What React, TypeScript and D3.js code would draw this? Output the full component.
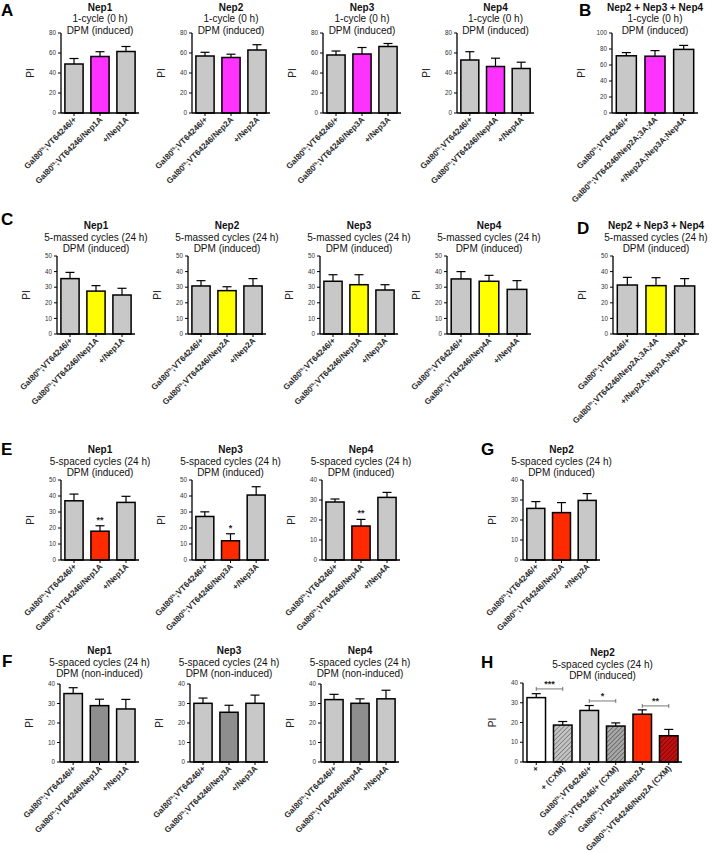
import React from "react";
import * as d3 from "d3";

// ---------- categories ----------
const catNep1 = ["Gal80^ts;VT64246/+", "Gal80^ts;VT64246/Nep1A", "+/Nep1A"];
const catNep2 = ["Gal80^ts;VT64246/+", "Gal80^ts;VT64246/Nep2A", "+/Nep2A"];
const catNep3 = ["Gal80^ts;VT64246/+", "Gal80^ts;VT64246/Nep3A", "+/Nep3A"];
const catNep4 = ["Gal80^ts;VT64246/+", "Gal80^ts;VT64246/Nep4A", "+/Nep4A"];
const catCombo = ["Gal80^ts;VT64246/+", "Gal80^ts;VT64246/Nep2A;3A;4A", "+/Nep2A;Nep3A;Nep4A"];
const catH = [
  "+",
  "+ (CXM)",
  "Gal80^ts;VT64246/+",
  "Gal80^ts;VT64246/+ (CXM)",
  "Gal80^ts;VT64246/Nep2A",
  "Gal80^ts;VT64246/Nep2A (CXM)",
];

// ---------- values (mean, SEM) ----------
// A: 1-cycle (0 h), induced
const meanA1 = [49, 56.5, 61.5];
const semA1 = [5.5, 4.8, 5];
const meanA2 = [57, 55.5, 63];
const semA2 = [3.7, 3.3, 5.3];
const meanA3 = [58, 59, 66.5];
const semA3 = [4, 6.5, 3];
const meanA4 = [53, 46.5, 44.5];
const semA4 = [8.3, 8.3, 6.3];
const meanB = [71.5, 71, 79.5];
const semB = [4, 7, 5];
// C: 5-massed cycles
const meanC1 = [35.5, 27.5, 25];
const semC1 = [4, 3.5, 4.3];
const meanC2 = [30.8, 27.8, 30.8];
const semC2 = [3.4, 2.5, 4.7];
const meanC3 = [33.8, 31.6, 28.2];
const semC3 = [4.2, 6.4, 3.4];
const meanC4 = [35.3, 33.8, 28.6];
const semC4 = [4.7, 3.8, 5.6];
const meanD = [31.4, 31, 30.8];
const semD = [4.9, 5.1, 4.7];
// E: 5-spaced cycles, induced
const meanE1 = [37, 18, 36];
const semE1 = [4.2, 3.4, 3.8];
const sigE1 = ["", "**", ""];
const meanE3 = [27.2, 12, 40.6];
const semE3 = [2.9, 4.4, 5.2];
const sigE3 = ["", "*", ""];
const meanE4 = [29, 17, 31.3];
const semE4 = [1.5, 3.3, 2.5];
const sigE4 = ["", "**", ""];
const meanG = [25.8, 23.7, 29.8];
const semG = [3.4, 5, 3.4];
// F: 5-spaced cycles, non-induced
const meanF1 = [35.1, 28.9, 27.2];
const semF1 = [3, 3.3, 4.9];
const meanF3 = [30.1, 25.5, 30.1];
const semF3 = [2.7, 3.6, 4.2];
const meanF4 = [32, 30.1, 32.4];
const semF4 = [2.7, 2.3, 4.4];
// H: CXM
const meanH = [32.6, 18.7, 26.1, 18.2, 24.2, 13.3];
const semH = [2, 1.8, 2.5, 1.6, 2.2, 3.2];
const hSigPairs = [[0, 1], [2, 3], [4, 5]];
const hSigLevels = [37, 30.9, 28.4];
const hSigLabels = ["***", "*", "**"];

const FONT = "'Liberation Sans', Arial, Helvetica, sans-serif";
const GRAY = "#c8c8c8";
const MAG = "#ff33ff";
const YEL = "#ffff00";
const RED = "#ff2a00";
const DGRAY = "#8e8e8e";

function Label({ text, x, y, size }: { text: string; x: number; y: number; size: number }) {
  const parts = text.split("^ts");
  return (
    <text
      transform={`translate(${x},${y}) rotate(-45)`}
      textAnchor="end"
      fontSize={size}
      fontWeight="bold"
      fill="#2a2a2a"
      fontFamily={FONT}
    >
      {parts.length === 1 ? (
        text
      ) : (
        <>
          <tspan>{parts[0]}</tspan>
          <tspan dy={-3} fontSize={size * 0.62}>ts</tspan>
          <tspan dy={3}>{parts[1]}</tspan>
        </>
      )}
    </text>
  );
}

type PanelProps = {
  ax: number;
  yTop: number;
  y0: number;
  w: number;
  ymax: number;
  step: number;
  titles: string[];
  titleY: number;
  cats: string[];
  means: number[];
  sems: number[];
  fills: string[];
  sig?: string[];
  brackets?: boolean;
};

function Panel(p: PanelProps) {
  const x = d3.scaleBand<number>().domain(d3.range(p.cats.length)).range([p.ax, p.ax + p.w]).paddingInner(0.3).paddingOuter(0.15);
  const y = d3.scaleLinear().domain([0, p.ymax]).range([p.y0, p.yTop]);
  const ticks = d3.range(0, p.ymax + p.step / 2, p.step);
  const cx = p.ax + p.w / 2;
  const bw = x.bandwidth();
  return (
    <g>
      {p.titles.map((t, i) => (
        <text
          key={i}
          x={cx}
          y={p.titleY + i * 11.5}
          textAnchor="middle"
          fontSize={10}
          fontWeight={i === 0 ? "bold" : "normal"}
          fill="#111"
          fontFamily={FONT}
        >
          {t}
        </text>
      ))}
      {/* bars */}
      {p.means.map((m, i) => {
        const bx = x(i)!;
        const top = y(m);
        const et = y(m + p.sems[i]);
        const c = bx + bw / 2;
        return (
          <g key={i}>
            <line x1={c} x2={c} y1={top} y2={et} stroke="#000" strokeWidth={1.2} />
            <line x1={c - 4.5} x2={c + 4.5} y1={et} y2={et} stroke="#000" strokeWidth={1.2} />
            <rect x={bx} y={top} width={bw} height={p.y0 - top} fill={p.fills[i]} stroke="#000" strokeWidth={1.5} />
            {p.sig && p.sig[i] ? (
              <text x={c} y={et - 3} textAnchor="middle" fontSize={9} fontWeight="bold" fill="#222" fontFamily={FONT}>
                {p.sig[i]}
              </text>
            ) : null}
          </g>
        );
      })}
      {/* H brackets */}
      {p.brackets &&
        hSigPairs.map((pr, k) => {
          const x1 = x(pr[0])! + bw / 2;
          const x2 = x(pr[1])! + bw / 2;
          const yy = y(hSigLevels[k]);
          return (
            <g key={k}>
              <line x1={x1} x2={x2} y1={yy} y2={yy} stroke="#555" strokeWidth={0.8} />
              <line x1={x1} x2={x1} y1={yy - 2} y2={yy + 2} stroke="#555" strokeWidth={0.8} />
              <line x1={x2} x2={x2} y1={yy - 2} y2={yy + 2} stroke="#555" strokeWidth={0.8} />
              <text x={(x1 + x2) / 2} y={yy - 2} textAnchor="middle" fontSize={9} fontWeight="bold" fill="#222" fontFamily={FONT}>
                {hSigLabels[k]}
              </text>
            </g>
          );
        })}
      {/* y axis */}
      <line x1={p.ax} x2={p.ax} y1={p.yTop} y2={p.y0} stroke="#000" strokeWidth={1.3} />
      {ticks.map((t) => (
        <g key={t}>
          <line x1={p.ax - 3} x2={p.ax} y1={y(t)} y2={y(t)} stroke="#000" strokeWidth={1} />
          <text x={p.ax - 5} y={y(t) + 2.2} textAnchor="end" fontSize={6.3} fill="#333" fontFamily={FONT}>
            {t}
          </text>
        </g>
      ))}
      <text
        transform={`translate(${p.ax - 27},${(p.yTop + p.y0) / 2}) rotate(-90)`}
        textAnchor="middle"
        fontSize={10}
        fill="#222"
        fontFamily={FONT}
      >
        PI
      </text>
      {/* x axis */}
      <line x1={p.ax} x2={p.ax + p.w} y1={p.y0} y2={p.y0} stroke="#000" strokeWidth={1.3} />
      {p.cats.map((c, i) => {
        const xc = x(i)! + bw / 2;
        return (
          <g key={i}>
            <line x1={xc} x2={xc} y1={p.y0} y2={p.y0 + 3} stroke="#000" strokeWidth={1} />
            <Label text={c} x={xc + 3} y={p.y0 + 7} size={8.2} />
          </g>
        );
      })}
    </g>
  );
}

function Letter({ t, x, y }: { t: string; x: number; y: number }) {
  return (
    <text x={x} y={y} fontSize={17} fontWeight="bold" fill="#000" fontFamily={FONT}>
      {t}
    </text>
  );
}

export default function App() {
  const tA = (n: string) => [n, "1-cycle (0 h)", "DPM (induced)"];
  const tC = (n: string) => [n, "5-massed cycles (24 h)", "DPM (induced)"];
  const tE = (n: string) => [n, "5-spaced cycles (24 h)", "DPM (induced)"];
  const tF = (n: string) => [n, "5-spaced cycles (24 h)", "DPM (non-induced)"];
  const g3 = (mid: string) => [GRAY, mid, GRAY];
  return (
    <svg width={712} height={853} style={{ position: "absolute", left: 0, top: 0, background: "#fff" }}>
      <defs>
        <pattern id="hatchLight" width="3.2" height="3.2" patternUnits="userSpaceOnUse" patternTransform="rotate(45)">
          <rect width="3.2" height="3.2" fill="#c4c4c4" />
          <line x1="0" y1="0" x2="0" y2="3.2" stroke="#5a5a5a" strokeWidth="1.1" />
        </pattern>
        <pattern id="hatchDark" width="3.2" height="3.2" patternUnits="userSpaceOnUse" patternTransform="rotate(45)">
          <rect width="3.2" height="3.2" fill="#a8a8a8" />
          <line x1="0" y1="0" x2="0" y2="3.2" stroke="#404040" strokeWidth="1.1" />
        </pattern>
        <pattern id="hatchRed" width="3.2" height="3.2" patternUnits="userSpaceOnUse" patternTransform="rotate(45)">
          <rect width="3.2" height="3.2" fill="#c01010" />
          <line x1="0" y1="0" x2="0" y2="3.2" stroke="#600000" strokeWidth="1.1" />
        </pattern>
      </defs>
      <rect x={0} y={0} width={712} height={853} fill="#fff" />

      {/* Row A / B */}
      <Letter t="A" x={1} y={16} />
      <Panel ax={61} yTop={33} y0={113} w={78} ymax={80} step={20} titles={tA("Nep1")} titleY={10.5} cats={catNep1} means={meanA1} sems={semA1} fills={g3(MAG)} />
      <Panel ax={192} yTop={33} y0={113} w={78} ymax={80} step={20} titles={tA("Nep2")} titleY={10.5} cats={catNep2} means={meanA2} sems={semA2} fills={g3(MAG)} />
      <Panel ax={323} yTop={33} y0={113} w={78} ymax={80} step={20} titles={tA("Nep3")} titleY={10.5} cats={catNep3} means={meanA3} sems={semA3} fills={g3(MAG)} />
      <Panel ax={457} yTop={33} y0={113} w={77} ymax={80} step={20} titles={tA("Nep4")} titleY={10.5} cats={catNep4} means={meanA4} sems={semA4} fills={g3(MAG)} />
      <Letter t="B" x={579} y={16} />
      <Panel ax={612} yTop={33} y0={113} w={86} ymax={100} step={20} titles={tA("Nep2 + Nep3 + Nep4")} titleY={10.5} cats={catCombo} means={meanB} sems={semB} fills={g3(MAG)} />

      {/* Row C / D */}
      <Letter t="C" x={1} y={225} />
      <Panel ax={57} yTop={256} y0={334} w={78} ymax={50} step={10} titles={tC("Nep1")} titleY={229} cats={catNep1} means={meanC1} sems={semC1} fills={g3(YEL)} />
      <Panel ax={188} yTop={256} y0={334} w={78} ymax={50} step={10} titles={tC("Nep2")} titleY={229} cats={catNep2} means={meanC2} sems={semC2} fills={g3(YEL)} />
      <Panel ax={320} yTop={256} y0={334} w={78} ymax={50} step={10} titles={tC("Nep3")} titleY={229} cats={catNep3} means={meanC3} sems={semC3} fills={g3(YEL)} />
      <Panel ax={447} yTop={256} y0={334} w={84} ymax={50} step={10} titles={tC("Nep4")} titleY={229} cats={catNep4} means={meanC4} sems={semC4} fills={g3(YEL)} />
      <Letter t="D" x={577} y={234} />
      <Panel ax={613} yTop={256} y0={334} w={86} ymax={50} step={10} titles={tC("Nep2 + Nep3 + Nep4")} titleY={229} cats={catCombo} means={meanD} sems={semD} fills={g3(YEL)} />

      {/* Row E / G */}
      <Letter t="E" x={1} y={455} />
      <Panel ax={61} yTop={480} y0={560} w={78} ymax={50} step={10} titles={tE("Nep1")} titleY={453} cats={catNep1} means={meanE1} sems={semE1} fills={g3(RED)} sig={sigE1} />
      <Panel ax={192} yTop={480} y0={560} w={77} ymax={50} step={10} titles={tE("Nep3")} titleY={453} cats={catNep3} means={meanE3} sems={semE3} fills={g3(RED)} sig={sigE3} />
      <Panel ax={322} yTop={480} y0={560} w={78} ymax={40} step={10} titles={tE("Nep4")} titleY={453} cats={catNep4} means={meanE4} sems={semE4} fills={g3(RED)} sig={sigE4} />
      <Letter t="G" x={481} y={455} />
      <Panel ax={523} yTop={480} y0={560} w={77} ymax={40} step={10} titles={tE("Nep2")} titleY={453} cats={catNep2} means={meanG} sems={semG} fills={g3(RED)} />

      {/* Row F / H */}
      <Letter t="F" x={2} y={667} />
      <Panel ax={60} yTop={684} y0={762} w={79} ymax={40} step={10} titles={tF("Nep1")} titleY={654} cats={catNep1} means={meanF1} sems={semF1} fills={g3(DGRAY)} />
      <Panel ax={190} yTop={684} y0={762} w={78} ymax={40} step={10} titles={tF("Nep3")} titleY={654} cats={catNep3} means={meanF3} sems={semF3} fills={g3(DGRAY)} />
      <Panel ax={321} yTop={684} y0={762} w={78} ymax={40} step={10} titles={tF("Nep4")} titleY={654} cats={catNep4} means={meanF4} sems={semF4} fills={g3(DGRAY)} />
      <Letter t="H" x={481} y={668} />
      <Panel
        ax={523}
        yTop={683}
        y0={762}
        w={159}
        ymax={40}
        step={10}
        titles={tE("Nep2")}
        titleY={656}
        cats={catH}
        means={meanH}
        sems={semH}
        fills={["#ffffff", "url(#hatchLight)", GRAY, "url(#hatchDark)", RED, "url(#hatchRed)"]}
        brackets
      />
    </svg>
  );
}
